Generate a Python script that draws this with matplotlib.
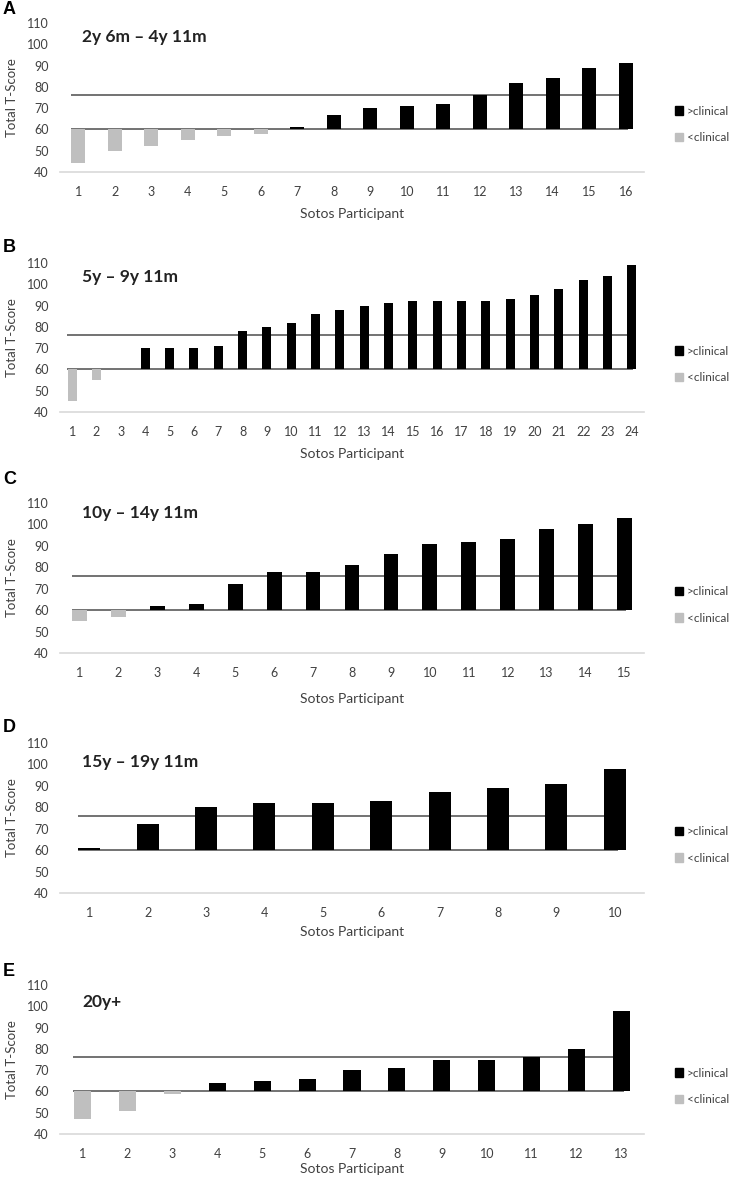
import matplotlib
matplotlib.use('Agg')
import matplotlib.pyplot as plt
from matplotlib.patches import Patch

# ---------------------------------------------------------------------
# Data
# ---------------------------------------------------------------------

panel_letters = ['A', 'B', 'C', 'D', 'E']
age_groups = ['2y 6m – 4y 11m', '5y – 9y 11m', '10y – 14y 11m', '15y – 19y 11m', '20y+']

scores_a = [44, 50, 52, 55, 57, 58, 61, 67, 70, 71, 72, 76, 82, 84, 89, 91]
scores_b = [45, 55, 60, 70, 70, 70, 71, 78, 80, 82, 86, 88, 90, 91, 92, 92,
            92, 92, 93, 95, 98, 102, 104, 109]
scores_c = [55, 57, 62, 63, 72, 78, 78, 81, 86, 91, 92, 93, 98, 100, 103]
scores_d = [61, 72, 80, 82, 82, 83, 87, 89, 91, 98]
scores_e = [47, 51, 59, 64, 65, 66, 70, 71, 75, 75, 76, 80, 98]

all_scores = [scores_a, scores_b, scores_c, scores_d, scores_e]

clinical_cut = 60
upper_line = 76
y_ticks = [40, 50, 60, 70, 80, 90, 100, 110]
legend_labels = ['>clinical', '<clinical']

# ---------------------------------------------------------------------
# Layout (pixel positions measured on the reference)
# ---------------------------------------------------------------------

W, H = 739, 1187
ax_left, ax_right = 60, 644
ax_tops = [23, 263, 503, 743, 985]
ax_bots = [172, 412, 653, 893, 1134]
title_y = [37, 277, 513, 762, 1002]
letter_y = [10, 247, 480, 727, 972]
xlabel_y = [215, 455, 700, 933, 1170]

plt.rcParams['font.family'] = ['Lato', 'DejaVu Sans']
text_col = '#404040'
black = '#000000'
grey = '#bfbfbf'
line_col = '#5a5a5a'

fig = plt.figure(figsize=(W / 100, H / 100), dpi=100)

for i, scores in enumerate(all_scores):
    top, bot = ax_tops[i], ax_bots[i]
    ax = fig.add_axes([ax_left / W, 1 - bot / H, (ax_right - ax_left) / W, (bot - top) / H])
    n = len(scores)
    xs = list(range(1, n + 1))
    heights = [s - clinical_cut for s in scores]
    colours = [black if s >= clinical_cut else grey for s in scores]
    bw = 0.38
    ax.bar(xs, heights, bottom=clinical_cut, width=bw, color=colours, zorder=3)
    ax.hlines([clinical_cut, upper_line], 1 - 0.2, n + 0.05, colors=line_col, lw=1.2, zorder=2)

    ax.set_xlim(0.5, n + 0.5)
    ax.set_ylim(40, 110)
    ax.set_yticks(y_ticks)
    ax.set_xticks(xs)
    ax.set_xticklabels([str(x) for x in xs])
    ax.tick_params(axis='both', length=0, labelsize=9, colors=text_col)
    ax.tick_params(axis='y', pad=8)
    ax.tick_params(axis='x', pad=10)
    for side in ['top', 'right', 'left']:
        ax.spines[side].set_visible(False)
    ax.spines['bottom'].set_color('#d9d9d9')
    ax.spines['bottom'].set_linewidth(1.2)

    h_px = bot - top
    ax.set_ylabel('Total T-Score', fontsize=9.5, color=text_col)
    ax.yaxis.set_label_coords(-42 / (ax_right - ax_left), 0.5)
    ax.set_xlabel('Sotos Participant', fontsize=10, color=text_col)
    ax.xaxis.set_label_coords(0.5, -(xlabel_y[i] - 7 - bot) / h_px)

    ax.text(22 / (ax_right - ax_left), (bot - title_y[i]) / h_px, age_groups[i],
            transform=ax.transAxes, fontsize=12.5, fontweight='bold', color='#222222', va='center')

    handles = [Patch(color=black), Patch(color=grey)]
    ax.legend(handles, legend_labels, loc='center left', bbox_to_anchor=(1.035, 0.32),
              frameon=False, fontsize=8.5, handlelength=0.7, handleheight=0.7,
              handletextpad=0.3, labelspacing=1.3, labelcolor=text_col)

    fig.text(3 / W, 1 - letter_y[i] / H, panel_letters[i], fontsize=13, fontweight='bold',
             family='Liberation Sans', va='center', ha='left')

plt.savefig('out.png', dpi=100)
